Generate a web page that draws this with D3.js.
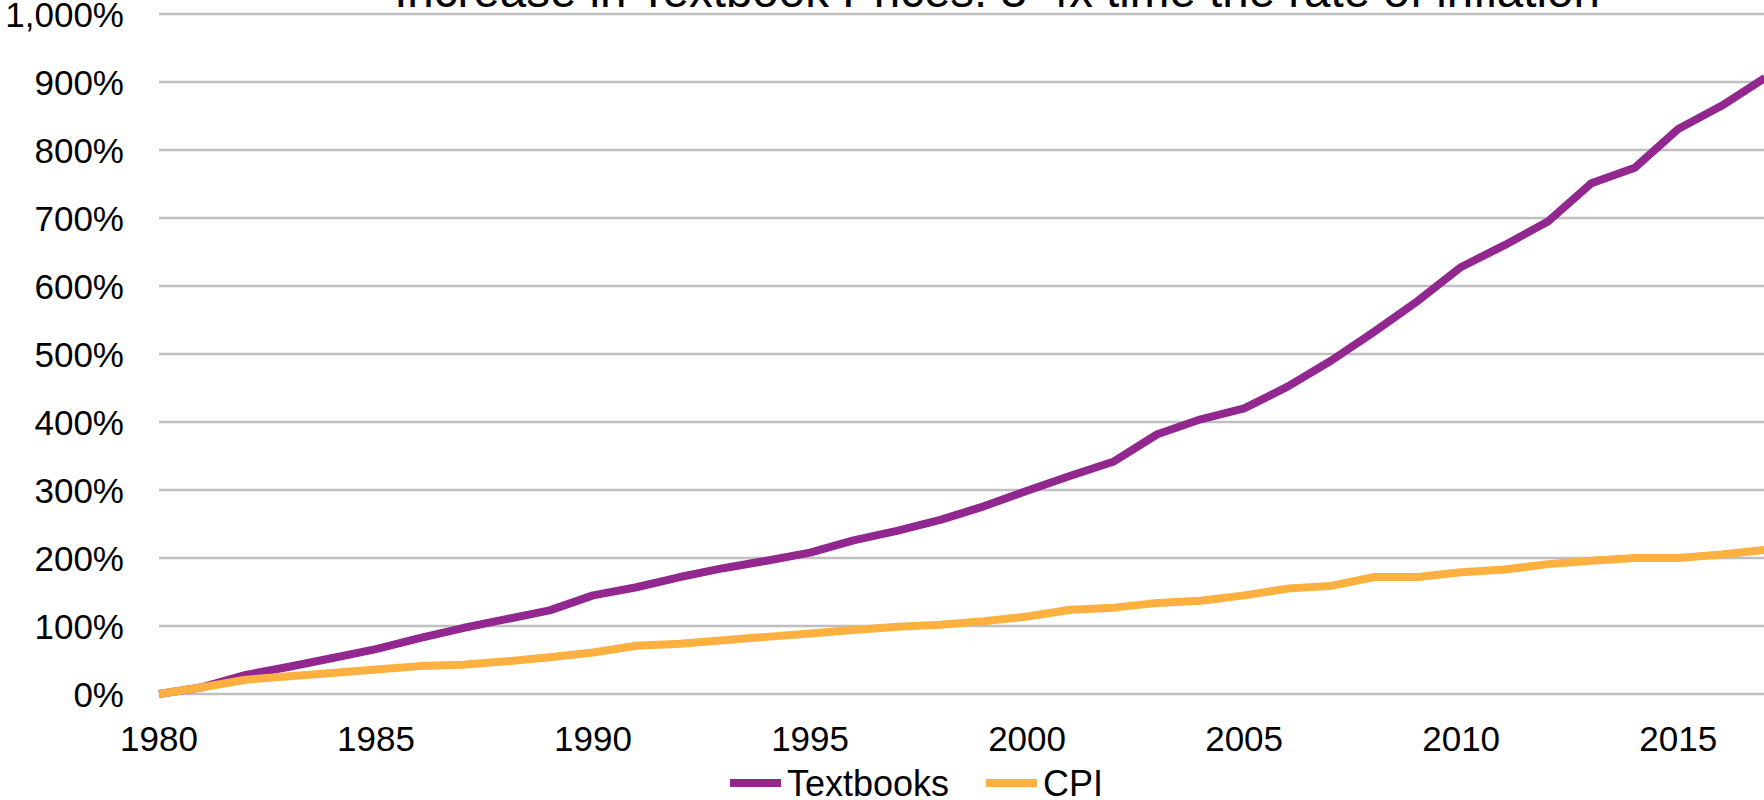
<!DOCTYPE html>
<html>
<head>
<meta charset="utf-8">
<script src="https://cdn.jsdelivr.net/npm/d3@7"></script>
<style>
  html, body { margin: 0; padding: 0; background: #fff; overflow: hidden; }
  text { font-family: "Liberation Sans", Arial, sans-serif; fill: #000; }
</style>
</head>
<body>
<div id="chart"></div>
<script>
const years = d3.range(1980, 2018);

const textbooks = [
  0, 10, 28, 40, 53, 66, 82, 97, 110, 123,
  145, 157, 172, 185, 196, 208, 226, 240, 256, 276,
  299, 321, 342, 382, 404, 420, 452, 490, 533, 578,
  628, 660, 695, 751, 774, 831, 865, 906
];

const cpi = [
  0, 10, 21, 26, 31, 36, 41, 43, 48, 54,
  61, 71, 74, 79, 84, 89, 94, 99, 102, 107,
  114, 124, 127, 134, 137, 145, 155, 159, 172, 172,
  179, 183, 191, 196, 200, 200, 205, 212
];

const yTicks = [0, 100, 200, 300, 400, 500, 600, 700, 800, 900, 1000];
const xTicks = [1980, 1985, 1990, 1995, 2000, 2005, 2010, 2015];

const seriesList = [
  { name: "Textbooks", values: textbooks, color: "#92278F" },
  { name: "CPI", values: cpi, color: "#FBB040" }
];

const titleText = "Increase in Textbook Prices: 3-4x time the rate of inflation";

const width = 1764, height = 800;

const svg = d3.select("#chart")
  .append("svg")
  .attr("width", width)
  .attr("height", height);

const x = d3.scaleLinear().domain([1980, 2017]).range([159, 1765]);
const y = d3.scaleLinear().domain([0, 1000]).range([694, 14]);

// gridlines
svg.append("g")
  .selectAll("line")
  .data(yTicks)
  .join("line")
  .attr("x1", 159)
  .attr("x2", width)
  .attr("y1", d => y(d))
  .attr("y2", d => y(d))
  .attr("stroke", "#BFBFBF")
  .attr("stroke-width", 2.3);

// y axis labels
const fmt = d3.format(",");
svg.append("g")
  .selectAll("text")
  .data(yTicks)
  .join("text")
  .attr("x", 124)
  .attr("y", d => y(d) + 13)
  .attr("text-anchor", "end")
  .style("font-size", "35px")
  .text(d => fmt(d) + "%");

// x axis labels
svg.append("g")
  .selectAll("text")
  .data(xTicks)
  .join("text")
  .attr("x", d => x(d))
  .attr("y", 751)
  .attr("text-anchor", "middle")
  .style("font-size", "35px")
  .text(d => d);

// lines
const line = d3.line()
  .x((d, i) => x(years[i]))
  .y(d => y(d));

svg.append("g")
  .selectAll("path")
  .data(seriesList)
  .join("path")
  .attr("d", d => line(d.values))
  .attr("fill", "none")
  .attr("stroke", d => d.color)
  .attr("stroke-width", 8)
  .attr("stroke-linejoin", "round");

// title
svg.append("text")
  .attr("x", 997)
  .attr("y", 7)
  .attr("text-anchor", "middle")
  .style("font-size", "47.5px")
  .text(titleText);

// legend
const legendPos = [730, 986];
const legend = svg.append("g")
  .selectAll("g")
  .data(seriesList)
  .join("g")
  .attr("transform", (d, i) => `translate(${legendPos[i]}, 783)`);

legend.append("line")
  .attr("x1", 0)
  .attr("x2", 51)
  .attr("stroke", d => d.color)
  .attr("stroke-width", 8);

legend.append("text")
  .attr("x", 57)
  .attr("y", 13)
  .style("font-size", "36px")
  .text(d => d.name);
</script>
</body>
</html>
